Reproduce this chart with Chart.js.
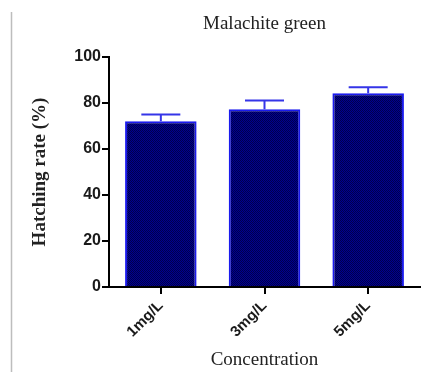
<!DOCTYPE html>
<html>
<head>
<meta charset="utf-8">
<script src="https://cdn.jsdelivr.net/npm/chart.js@4/dist/chart.umd.min.js"></script>
<style>
  html, body { margin: 0; padding: 0; background: #fff; overflow: hidden; }
  #wrap { width: 422px; height: 372px; position: relative; }
</style>
</head>
<body>
<div id="wrap"><canvas id="c" width="422" height="372"></canvas></div>
<script>
// Hatching rate by malachite green concentration (mean ± error)
const categories = ['1mg/L', '3mg/L', '5mg/L'];
const hatchingRate = [72.1, 77.3, 84.2];
const hatchingErr = [2.9, 3.8, 2.6];
const yTickValues = [0, 20, 40, 60, 80, 100];

// Fine dotted navy fill for the bars
function makeDotPattern() {
  const p = document.createElement('canvas');
  p.width = 2; p.height = 2;
  const g = p.getContext('2d');
  g.fillStyle = '#000090'; g.fillRect(0, 0, 2, 2);
  g.fillStyle = '#00004c'; g.fillRect(0, 0, 1, 1); g.fillRect(1, 1, 1, 1);
  return g.createPattern(p, 'repeat');
}

// Thin grey rule down the left edge of the figure
const leftRule = {
  id: 'leftRule',
  beforeDraw(chart) {
    const ctx = chart.ctx;
    ctx.save();
    ctx.fillStyle = '#fff';
    ctx.fillRect(0, 0, chart.width, chart.height);
    ctx.strokeStyle = '#bdbdbd';
    ctx.lineWidth = 1.5;
    ctx.beginPath();
    ctx.moveTo(11.5, 12);
    ctx.lineTo(11.5, chart.height);
    ctx.stroke();
    ctx.restore();
  }
};

// Upper error bars with caps
const errorBars = {
  id: 'errorBars',
  afterDatasetsDraw(chart) {
    const ctx = chart.ctx;
    const yScale = chart.scales.y;
    const meta = chart.getDatasetMeta(0);
    ctx.save();
    ctx.strokeStyle = '#3535e8';
    ctx.lineWidth = 2;
    meta.data.forEach((bar, i) => {
      const yTop = yScale.getPixelForValue(hatchingRate[i] + hatchingErr[i]);
      const half = 19.5;
      ctx.beginPath();
      ctx.moveTo(bar.x, bar.y);
      ctx.lineTo(bar.x, yTop);
      ctx.moveTo(bar.x - half, yTop);
      ctx.lineTo(bar.x + half, yTop);
      ctx.stroke();
    });
    ctx.restore();
  }
};

new Chart(document.getElementById('c'), {
  type: 'bar',
  data: {
    labels: categories,
    datasets: [{
      data: hatchingRate,
      backgroundColor: makeDotPattern(),
      borderColor: '#1a1aee',
      borderWidth: 2,
      borderSkipped: 'bottom',
      barPercentage: 0.69,
      categoryPercentage: 1.0
    }]
  },
  options: {
    responsive: false,
    animation: false,
    events: [],
    layout: { padding: { left: 0, right: 2, top: 0, bottom: 0 } },
    plugins: {
      legend: { display: false },
      tooltip: { enabled: false },
      title: {
        display: true,
        text: 'Malachite green',
        fullSize: false,
        color: '#222',
        font: { family: 'Liberation Serif', size: 19, weight: 'normal', lineHeight: 1.2 },
        padding: { top: 12.3, bottom: 21.9 }
      }
    },
    scales: {
      x: {
        afterFit(s) { s.height = 85; },
        grid: { offset: false, drawOnChartArea: false, drawTicks: true, tickLength: 7, color: '#000', lineWidth: 2 },
        border: { color: '#000', width: 2 },
        ticks: {
          color: '#1a1a1a',
          font: { family: 'Liberation Sans', size: 15, weight: 'bold' },
          minRotation: 45, maxRotation: 45,
          padding: 3
        },
        title: {
          display: true,
          text: 'Concentration',
          color: '#222',
          font: { family: 'Liberation Serif', size: 19, weight: 'normal', lineHeight: 1 },
          padding: { top: 0, bottom: 2 }
        }
      },
      y: {
        min: 0, max: 100,
        afterFit(s) { s.width = 109; },
        afterBuildTicks(s) { s.ticks = yTickValues.map(v => ({ value: v })); },
        grid: { drawOnChartArea: false, drawTicks: true, tickLength: 7, color: '#000', lineWidth: 2 },
        border: { color: '#000', width: 2 },
        ticks: {
          color: '#1a1a1a',
          font: { family: 'Liberation Sans', size: 16, weight: 'bold' },
          padding: 1
        },
        title: {
          display: true,
          text: 'Hatching rate (%)',
          color: '#222',
          font: { family: 'Liberation Serif', size: 19, weight: 'bold', lineHeight: 1 },
          padding: { top: 30.5, bottom: 0 }
        }
      }
    }
  },
  plugins: [leftRule, errorBars]
});
</script>
</body>
</html>
